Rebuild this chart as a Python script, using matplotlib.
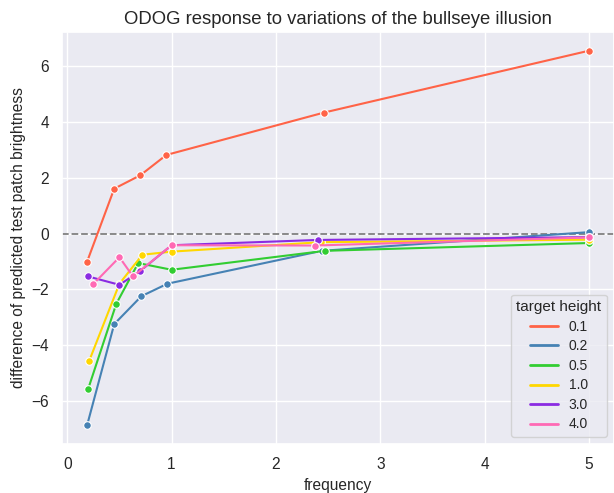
import matplotlib
matplotlib.use("Agg")
import matplotlib.pyplot as plt
from matplotlib.lines import Line2D
import seaborn as sns

# ODOG output differences per target height, plotted against frequency
heights = ["0.1", "0.2", "0.5", "1.0", "3.0", "4.0"]
colors = ["tomato", "steelblue", "limegreen", "gold", "blueviolet", "hotpink"]

freq_01 = [0.19, 0.45, 0.70, 0.95, 2.46, 5.0]
diff_01 = [-1.01, 1.61, 2.09, 2.82, 4.34, 6.56]

freq_02 = [0.19, 0.45, 0.71, 0.96, 2.44, 5.0]
diff_02 = [-6.88, -3.25, -2.25, -1.80, -0.62, 0.05]

freq_05 = [0.20, 0.47, 0.68, 1.00, 2.47, 5.0]
diff_05 = [-5.58, -2.52, -1.06, -1.30, -0.62, -0.34]

freq_10 = [0.21, 0.50, 0.72, 1.00, 2.43, 5.0]
diff_10 = [-4.57, -1.80, -0.76, -0.65, -0.31, -0.22]

freq_30 = [0.20, 0.50, 0.70, 1.00, 2.40, 5.0]
diff_30 = [-1.54, -1.84, -1.34, -0.42, -0.23, -0.13]

freq_40 = [0.25, 0.50, 0.63, 1.00, 2.37, 5.0]
diff_40 = [-1.81, -0.85, -1.54, -0.42, -0.43, -0.14]

freqs = [freq_01, freq_02, freq_05, freq_10, freq_30, freq_40]
diffs = [diff_01, diff_02, diff_05, diff_10, diff_30, diff_40]

sns.set_theme(style="darkgrid")
plt.rcParams["font.family"] = ["Liberation Sans", "DejaVu Sans"]

fig = plt.figure(figsize=(6.14, 4.93), dpi=100)
ax = fig.add_axes([62 / 614, 49 / 493, 552 / 614, 412 / 493])

for f, d, c in zip(freqs, diffs, colors):
    ax.plot(f, d, color=c, lw=1.5, marker="o", ms=5.5,
            markeredgecolor="white", markeredgewidth=0.8)

ax.axhline(0, color="grey", ls="--", lw=1.3, zorder=1)
ax.margins(x=0.05, y=0.05)

ax.set_title("ODOG response to variations of the bullseye illusion", fontsize=13.3)
ax.set_xlabel("frequency", fontsize=11.2)
ax.set_ylabel("difference of predicted test patch brightness", fontsize=11.2)
ax.tick_params(labelsize=11.2)

handles = [Line2D([], [], color=c, lw=2) for c in colors]
ax.legend(handles, heights, title="target height", loc="lower right",
          fontsize=10, title_fontsize=11, labelspacing=0.4)

fig.savefig("out.png", dpi=100)
